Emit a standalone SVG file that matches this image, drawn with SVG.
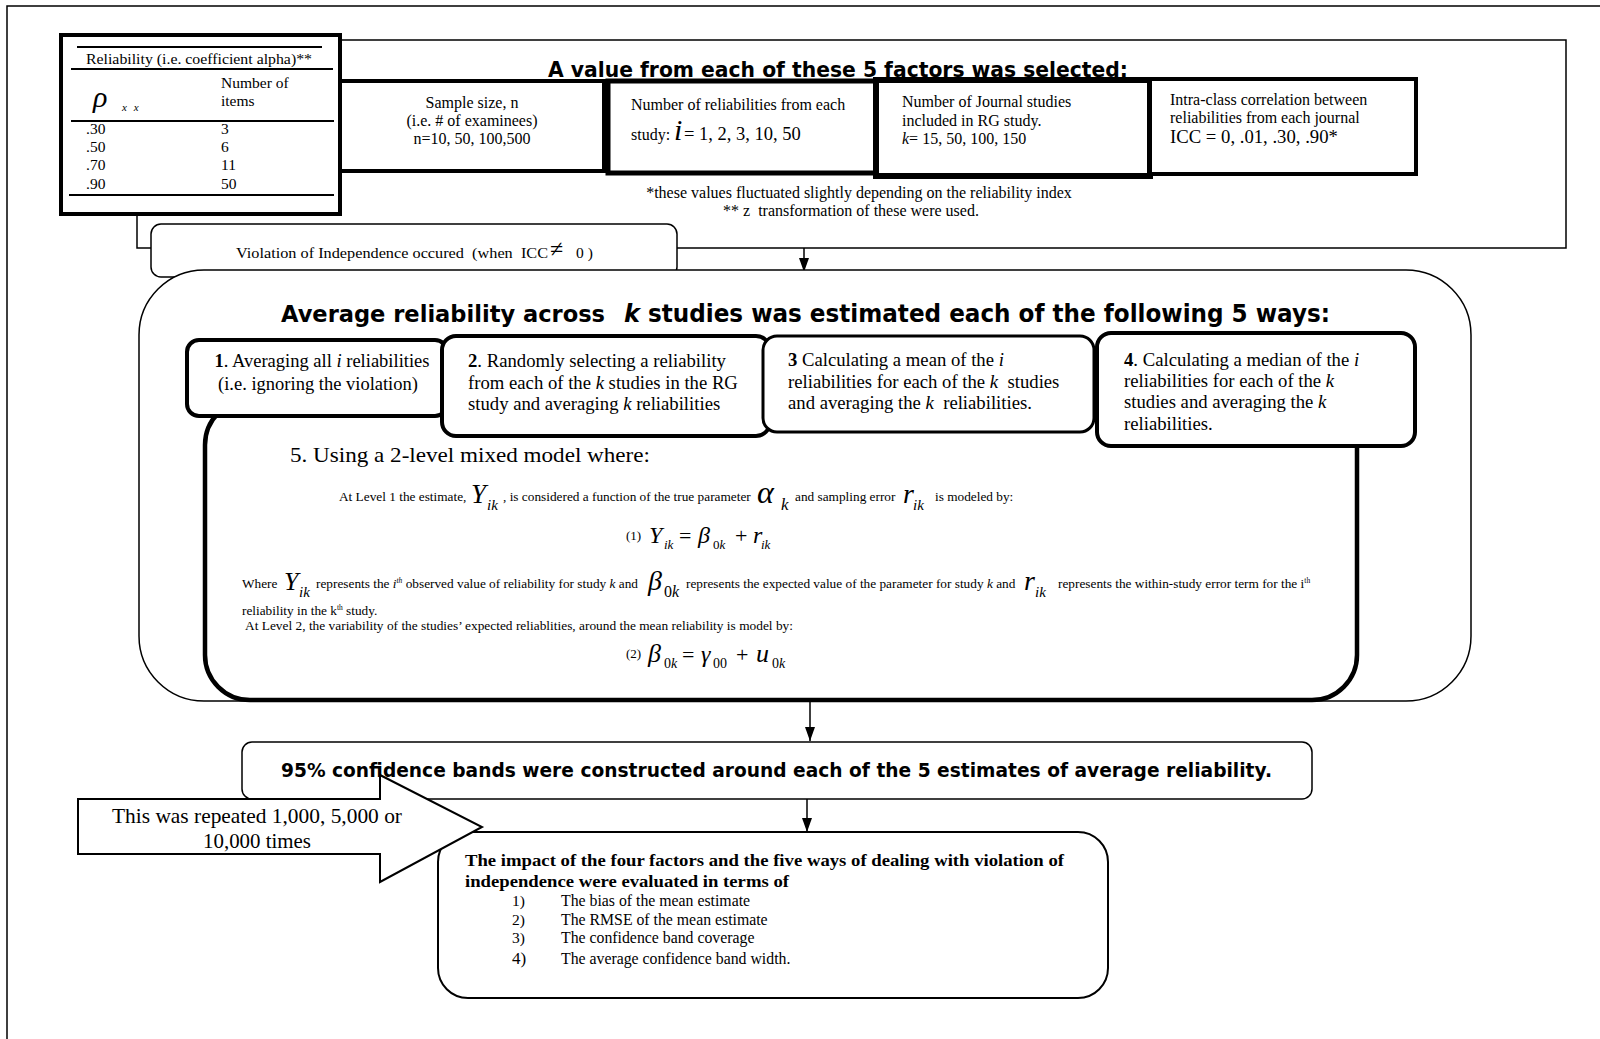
<svg xmlns="http://www.w3.org/2000/svg" width="1600" height="1039" viewBox="0 0 1600 1039">
<defs>
<style>
.t{font-family:"Liberation Serif","Times New Roman",serif;fill:#000}
.c{font-family:"DejaVu Sans","Liberation Sans",sans-serif;font-weight:bold;fill:#000}
.i{font-style:italic}
.b{font-weight:bold}
.box{fill:#fff;stroke:#000}
.ln{fill:none;stroke:#000;stroke-width:1.5}
</style>
<marker id="ah" viewBox="0 0 10 10" refX="10" refY="5" markerWidth="14" markerHeight="10" markerUnits="userSpaceOnUse" orient="auto" preserveAspectRatio="none">
<path d="M0,0 L10,5 L0,10 z" fill="#000"/>
</marker>
</defs>
<rect width="1600" height="1039" fill="#fff"/>

<g id="page-frame">
<path d="M7,1039 V6 H1600" class="ln"/>
</g>

<g id="factors-frame">
<path d="M340,40 H1566 V248 H677" class="ln"/>
<text class="t" x="859" y="198" font-size="16" text-anchor="middle">*these values fluctuated slightly depending on the reliability index</text>
<text class="t" x="851" y="216" font-size="16" text-anchor="middle" xml:space="preserve">** z  transformation of these were used.</text>
</g>

<g id="connectors">
<path d="M137,214 V248 H151" class="ln"/>
<line x1="804" y1="248" x2="804" y2="272" class="ln" marker-end="url(#ah)"/>
<line x1="810" y1="701" x2="810" y2="741" class="ln" marker-end="url(#ah)"/>
<line x1="807" y1="799" x2="807" y2="832" class="ln" marker-end="url(#ah)"/>
</g>

<g id="reliability-table">
<rect x="61" y="35" width="279" height="179" class="box" stroke-width="4"/>
<line x1="77" y1="47" x2="322" y2="47" stroke="#000" stroke-width="2"/>
<line x1="71" y1="69" x2="333" y2="69" stroke="#000" stroke-width="2"/>
<line x1="71" y1="121" x2="334" y2="121" stroke="#000" stroke-width="2"/>
<line x1="69" y1="195" x2="334" y2="195" stroke="#000" stroke-width="2"/>
<text class="t" x="86" y="64" font-size="14.5" textLength="226" lengthAdjust="spacingAndGlyphs">Reliability (i.e. coefficient alpha)**</text>
<text class="t i" x="93" y="107" font-size="30">ρ</text>
<text class="t i" x="122" y="111" font-size="11" letter-spacing="2">x x</text>
<text class="t" x="221" y="88" font-size="15.5">Number of</text>
<text class="t" x="221" y="106" font-size="15.5">items</text>
<text class="t" x="86" y="134" font-size="15.5">.30</text>
<text class="t" x="86" y="152" font-size="15.5">.50</text>
<text class="t" x="86" y="170" font-size="15.5">.70</text>
<text class="t" x="86" y="189" font-size="15.5">.90</text>
<text class="t" x="221" y="134" font-size="15.5">3</text>
<text class="t" x="221" y="152" font-size="15.5">6</text>
<text class="t" x="221" y="170" font-size="15.5">11</text>
<text class="t" x="221" y="189" font-size="15.5">50</text>
</g>

<g id="sample-size">
<rect x="340" y="81" width="264" height="90" class="box" stroke-width="4"/>
<text class="t" x="472" y="108" font-size="16" text-anchor="middle">Sample size, n</text>
<text class="t" x="472" y="126" font-size="16" text-anchor="middle">(i.e. # of examinees)</text>
<text class="t" x="472" y="144" font-size="16" text-anchor="middle">n=10, 50, 100,500</text>
</g>

<g id="num-reliabilities">
<rect x="608" y="81" width="268" height="92" class="box" stroke-width="5"/>
<text class="t" x="631" y="110" font-size="16">Number of reliabilities from each</text>
<text class="t" x="631" y="140" font-size="16">study:</text>
<text class="t i" x="674" y="140" font-size="30">i</text>
<text class="t" x="684" y="140" font-size="18.5">= 1, 2, 3, 10, 50</text>
</g>

<g id="num-journals">
<rect x="876" y="80" width="274" height="96" class="box" stroke-width="6"/>
<text class="t" x="902" y="107" font-size="16">Number of Journal studies</text>
<text class="t" x="902" y="126" font-size="16">included in RG study.</text>
<text class="t" x="902" y="144" font-size="16"><tspan class="i">k</tspan>= 15, 50, 100, 150</text>
</g>

<g id="icc">
<rect x="1150" y="79" width="266" height="95" class="box" stroke-width="4"/>
<text class="t" x="1170" y="105" font-size="16">Intra-class correlation between</text>
<text class="t" x="1170" y="123" font-size="16">reliabilities from each journal</text>
<text class="t" x="1170" y="143" font-size="18.7">ICC = 0, .01, .30, .90*</text>
</g>

<g id="factors-title">
<text class="c" x="548" y="77" font-size="22" textLength="580" lengthAdjust="spacingAndGlyphs" text-decoration="underline">A value from each of these 5 factors was selected:</text>
</g>

<g id="violation">
<rect x="151" y="224" width="526" height="53" rx="10" class="box" stroke-width="1.5"/>
<text class="t" x="236" y="258" font-size="15.5" textLength="312" lengthAdjust="spacingAndGlyphs" xml:space="preserve">Violation of Independence occured  (when  ICC</text>
<text class="t" x="550" y="257" font-size="24">≠</text>
<text class="t" x="576" y="258" font-size="15.5">0 )</text>
</g>

<g id="estimation-frame">
<rect x="139" y="270" width="1332" height="431" rx="65" class="box" stroke-width="1.5"/>
<text class="c" x="281" y="322" font-size="23" textLength="324" lengthAdjust="spacingAndGlyphs">Average reliability across</text>
<text class="c" x="624" y="322" font-size="24" font-style="italic">k</text>
<text class="c" x="648" y="322" font-size="24" textLength="682" lengthAdjust="spacingAndGlyphs">studies was estimated each of the following 5 ways:</text>
</g>

<g id="way5">
<rect x="205" y="400" width="1152" height="300" rx="45" class="box" stroke-width="4.5"/>
<text class="t" x="290" y="462" font-size="21" textLength="360" lengthAdjust="spacingAndGlyphs">5. Using a 2-level mixed model where:</text>
<text class="t" x="339" y="501" font-size="13.3">At Level 1 the estimate,</text>
<text class="t i" x="471" y="503" font-size="27">Y</text>
<text class="t i" x="487" y="510" font-size="15">ik</text>
<text class="t" x="503" y="501" font-size="13.3">, is considered a function of the true parameter</text>
<text class="t i" x="757" y="503" font-size="32">α</text>
<text class="t i" x="781" y="510" font-size="17">k</text>
<text class="t" x="795" y="501" font-size="13.3">and sampling error</text>
<text class="t i" x="903" y="503" font-size="28">r</text>
<text class="t i" x="913" y="510" font-size="15">ik</text>
<text class="t" x="935" y="501" font-size="13.3">is modeled by:</text>

<text class="t" x="626" y="540" font-size="13">(1)</text>
<text class="t i" x="649" y="543" font-size="24">Y</text>
<text class="t i" x="664" y="549" font-size="13">ik</text>
<text class="t" x="679" y="543" font-size="22">=</text>
<text class="t i" x="698" y="543" font-size="24">β</text>
<text class="t" x="713" y="549" font-size="13">0<tspan class="i">k</tspan></text>
<text class="t" x="735" y="543" font-size="22">+</text>
<text class="t i" x="753" y="543" font-size="24">r</text>
<text class="t i" x="761" y="549" font-size="13">ik</text>

<text class="t" x="242" y="588" font-size="13.3">Where</text>
<text class="t i" x="284" y="590" font-size="26">Y</text>
<text class="t i" x="299" y="597" font-size="15">ik</text>
<text class="t" x="316" y="588" font-size="13.3">represents the <tspan class="i">i</tspan><tspan class="i" font-size="7.5" dy="-5">th</tspan><tspan dy="5"> observed value of reliability for study </tspan><tspan class="i">k</tspan> and</text>
<text class="t i" x="648" y="590" font-size="28">β</text>
<text class="t" x="664" y="597" font-size="16">0<tspan class="i">k</tspan></text>
<text class="t" x="686" y="588" font-size="13.3">represents the expected value of the parameter for study <tspan class="i">k</tspan> and</text>
<text class="t i" x="1024" y="590" font-size="28">r</text>
<text class="t i" x="1035" y="597" font-size="15">ik</text>
<text class="t" x="1058" y="588" font-size="13.3">represents the within-study error term for the i<tspan font-size="7.5" dy="-5">th</tspan></text>
<text class="t" x="242" y="615" font-size="13.3">reliability in the k<tspan font-size="7.5" dy="-5">th</tspan><tspan dy="5"> study.</tspan></text>
<text class="t" x="245" y="630" font-size="13.3" textLength="548" lengthAdjust="spacingAndGlyphs">At Level 2, the variability of the studies’ expected reliablities, around the mean reliability is model by:</text>

<text class="t" x="626" y="658" font-size="13">(2)</text>
<text class="t i" x="648" y="662" font-size="26">β</text>
<text class="t" x="664" y="668" font-size="14">0<tspan class="i">k</tspan></text>
<text class="t" x="682" y="662" font-size="22">=</text>
<text class="t i" x="701" y="662" font-size="24">γ</text>
<text class="t" x="713" y="668" font-size="14">00</text>
<text class="t" x="736" y="662" font-size="22">+</text>
<text class="t i" x="756" y="662" font-size="26">u</text>
<text class="t" x="772" y="668" font-size="14">0<tspan class="i">k</tspan></text>
</g>

<g id="way1">
<rect x="187" y="340" width="260" height="76" rx="12" class="box" stroke-width="4"/>
<text class="t" x="322" y="367" font-size="18.5" text-anchor="middle"><tspan class="b">1</tspan>. Averaging all <tspan class="i">i</tspan> reliabilities</text>
<text class="t" x="318" y="390" font-size="18.5" text-anchor="middle">(i.e. ignoring the violation)</text>
</g>

<g id="way2">
<rect x="442" y="336" width="328" height="100" rx="14" class="box" stroke-width="4"/>
<text class="t" x="468" y="367" font-size="18.7"><tspan class="b">2</tspan>. Randomly selecting a reliability</text>
<text class="t" x="468" y="389" font-size="18.7">from each of the <tspan class="i">k</tspan> studies in the RG</text>
<text class="t" x="468" y="410" font-size="18.7">study and averaging <tspan class="i">k</tspan> reliabilities</text>
</g>

<g id="way3">
<rect x="763" y="336" width="331" height="96" rx="14" class="box" stroke-width="3"/>
<text class="t" x="788" y="366" font-size="18.7"><tspan class="b">3</tspan> Calculating a mean of the <tspan class="i">i</tspan></text>
<text class="t" x="788" y="388" font-size="18.7" xml:space="preserve">reliabilities for each of the <tspan class="i">k</tspan>  studies</text>
<text class="t" x="788" y="409" font-size="18.7" xml:space="preserve">and averaging the <tspan class="i">k</tspan>  reliabilities.</text>
</g>

<g id="way4">
<rect x="1097" y="333" width="318" height="113" rx="14" class="box" stroke-width="4"/>
<text class="t" x="1124" y="366" font-size="18.7"><tspan class="b">4</tspan>. Calculating a median of the <tspan class="i">i</tspan></text>
<text class="t" x="1124" y="387" font-size="18.7">reliabilities for each of the <tspan class="i">k</tspan></text>
<text class="t" x="1124" y="408" font-size="18.7">studies and averaging the <tspan class="i">k</tspan></text>
<text class="t" x="1124" y="430" font-size="18.7">reliabilities.</text>
</g>

<g id="confidence-bands">
<rect x="242" y="742" width="1070" height="57" rx="10" class="box" stroke-width="1.5"/>
</g>

<g id="evaluation">
<rect x="438" y="832" width="670" height="166" rx="30" class="box" stroke-width="2"/>
</g>

<g id="repeat-arrow">
<polygon points="78,799 380,799 380,775 482,827 380,882 380,854 78,854" class="box" stroke-width="2"/>
<text class="t" x="257" y="823" font-size="21" text-anchor="middle" textLength="290" lengthAdjust="spacingAndGlyphs">This was repeated 1,000, 5,000 or</text>
<text class="t" x="257" y="848" font-size="21" text-anchor="middle" textLength="108" lengthAdjust="spacingAndGlyphs">10,000 times</text>
</g>

<g id="confidence-text">
<text class="c" x="281" y="777" font-size="20" textLength="991" lengthAdjust="spacingAndGlyphs">95% confidence bands were constructed around each of the 5 estimates of average reliability.</text>
</g>

<g id="evaluation-text">
<text class="t b" x="465" y="866" font-size="17" textLength="599" lengthAdjust="spacingAndGlyphs">The impact of the four factors and the five ways of dealing with violation of</text>
<text class="t b" x="465" y="887" font-size="17" textLength="324" lengthAdjust="spacingAndGlyphs">independence were evaluated in terms of</text>
<text class="t" x="512" y="906" font-size="15.5">1)</text>
<text class="t" x="512" y="925" font-size="15.5">2)</text>
<text class="t" x="512" y="943" font-size="15.5">3)</text>
<text class="t" x="512" y="964" font-size="17">4)</text>
<text class="t" x="561" y="906" font-size="15.8">The bias of the mean estimate</text>
<text class="t" x="561" y="925" font-size="15.8">The RMSE of the mean estimate</text>
<text class="t" x="561" y="943" font-size="15.8">The confidence band coverage</text>
<text class="t" x="561" y="964" font-size="15.8">The average confidence band width.</text>
</g>
</svg>
